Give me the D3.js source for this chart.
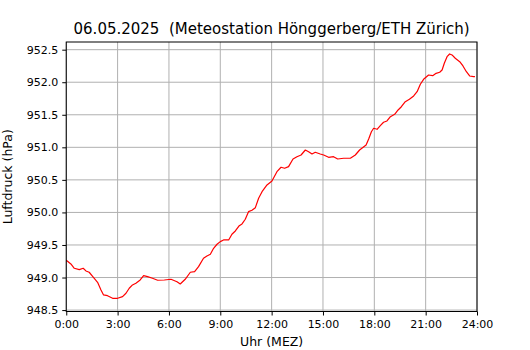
<!DOCTYPE html>
<html>
<head>
<meta charset="utf-8">
<script src="https://cdn.jsdelivr.net/npm/d3@7"></script>
<style>
  html, body { margin: 0; padding: 0; background: #fff; }
  svg { display: block; font-family: "DejaVu Sans", sans-serif; }
</style>
</head>
<body>
<svg id="chart" width="530" height="350"></svg>
<script>
// ---- Data (hours since midnight, pressure hPa) ----
const hours = [0.00,0.27,0.47,0.76,0.99,1.15,1.34,1.54,1.83,2.03,2.18,2.41,2.71,3.00,3.29,3.49,3.68,3.87,4.07,4.32,4.52,4.75,5.04,5.34,5.73,6.12,6.47,6.66,6.95,7.25,7.50,7.73,8.02,8.22,8.42,8.61,8.81,9.00,9.19,9.49,9.68,9.88,10.11,10.27,10.46,10.65,10.85,11.05,11.24,11.44,11.73,12.02,12.31,12.55,12.76,12.99,13.25,13.48,13.72,13.97,14.16,14.36,14.55,14.84,15.04,15.33,15.62,15.86,16.21,16.60,16.89,17.14,17.52,17.67,17.83,17.96,18.16,18.35,18.54,18.74,18.94,19.19,19.39,19.58,19.81,20.05,20.30,20.50,20.69,20.88,21.17,21.41,21.61,21.82,21.96,22.09,22.25,22.40,22.54,22.73,22.99,23.18,23.38,23.57,23.80,23.88];
const pressure = [949.265,949.208,949.142,949.121,949.142,949.101,949.081,949.019,948.927,948.809,948.732,948.721,948.681,948.681,948.706,948.758,948.835,948.886,948.912,948.962,949.028,949.013,948.988,948.958,948.962,948.973,948.936,948.901,948.973,949.081,949.090,949.167,949.296,949.331,949.357,949.449,949.511,949.551,949.577,949.577,949.664,949.715,949.796,949.823,949.895,950.012,950.033,950.073,950.217,950.319,950.422,950.483,950.626,950.694,950.678,950.703,950.821,950.856,950.882,950.959,950.933,950.898,950.924,950.898,950.882,950.847,950.856,950.821,950.832,950.832,950.882,950.959,951.036,951.128,951.240,951.293,951.277,951.333,951.385,951.405,951.471,951.508,951.574,951.624,951.701,951.738,951.789,951.855,951.969,952.045,952.111,952.101,952.137,952.153,952.188,952.291,952.392,952.434,952.419,952.368,952.316,952.250,952.162,952.096,952.085,952.085];
const xTicks = [0,3,6,9,12,15,18,21,24];
const xTickLabels = ["0:00","3:00","6:00","9:00","12:00","15:00","18:00","21:00","24:00"];
const yTicks = [948.5,949.0,949.5,950.0,950.5,951.0,951.5,952.0,952.5];
const titleText = "06.05.2025  (Meteostation Hönggerberg/ETH Zürich)";
const xLabel = "Uhr (MEZ)";
const yLabel = "Luftdruck (hPa)";

// ---- Layout ----
const W = 530, H = 350;
const mLeft = 66.25, mRight = 477, mTop = 42, mBottom = 311.5;

const svg = d3.select("#chart");
const x = d3.scaleLinear().domain([0, 24]).range([mLeft, mRight]);
const y = d3.scaleLinear().domain([948.478, 952.618]).range([mBottom, mTop]);

// grid
const grid = svg.append("g");
grid.selectAll("line.vx").data(xTicks).join("line")
  .attr("x1", d => x(d)).attr("x2", d => x(d))
  .attr("y1", mTop).attr("y2", mBottom)
  .attr("stroke", "#b0b0b0").attr("stroke-width", 1);
grid.selectAll("line.hy").data(yTicks).join("line")
  .attr("x1", mLeft).attr("x2", mRight)
  .attr("y1", d => y(d)).attr("y2", d => y(d))
  .attr("stroke", "#b0b0b0").attr("stroke-width", 1);

// line
const pts = hours.map((h, i) => [h, pressure[i]]);
svg.append("path")
  .datum(pts)
  .attr("fill", "none")
  .attr("stroke", "#ff0000")
  .attr("stroke-width", 1.2)
  .attr("stroke-linejoin", "round")
  .attr("d", d3.line().x(d => x(d[0])).y(d => y(d[1])));

// axes
const xAxis = d3.axisBottom(x).tickValues(xTicks)
  .tickFormat((d, i) => xTickLabels[i]).tickSize(4).tickPadding(5);
const yAxis = d3.axisLeft(y).tickValues(yTicks)
  .tickFormat(d3.format(".1f")).tickSize(4).tickPadding(4);

const gx = svg.append("g").attr("transform", `translate(0,${mBottom})`).call(xAxis);
const gy = svg.append("g").attr("transform", `translate(${mLeft},0)`).call(yAxis);
[gx, gy].forEach(g => {
  g.select(".domain").remove();
  g.selectAll("line").attr("stroke", "#000").attr("stroke-width", 1);
  g.selectAll("text").attr("fill", "#000")
    .style("font-family", "'DejaVu Sans', sans-serif").style("font-size", "11px");
});

// frame
svg.append("rect")
  .attr("x", mLeft).attr("y", mTop)
  .attr("width", mRight - mLeft).attr("height", mBottom - mTop)
  .attr("fill", "none").attr("stroke", "#000").attr("stroke-width", 1);

// title and labels
svg.append("text")
  .attr("x", (mLeft + mRight) / 2).attr("y", 34)
  .attr("text-anchor", "middle")
  .style("font-size", "15px").style("white-space", "pre").attr("fill", "#000")
  .text(titleText);
svg.append("text")
  .attr("x", (mLeft + mRight) / 2).attr("y", 346)
  .attr("text-anchor", "middle")
  .style("font-size", "12.5px").attr("fill", "#000")
  .text(xLabel);
svg.append("text")
  .attr("transform", `translate(12,${(mTop + mBottom) / 2}) rotate(-90)`)
  .attr("text-anchor", "middle")
  .style("font-size", "12.5px").attr("fill", "#000")
  .text(yLabel);
</script>
</body>
</html>
